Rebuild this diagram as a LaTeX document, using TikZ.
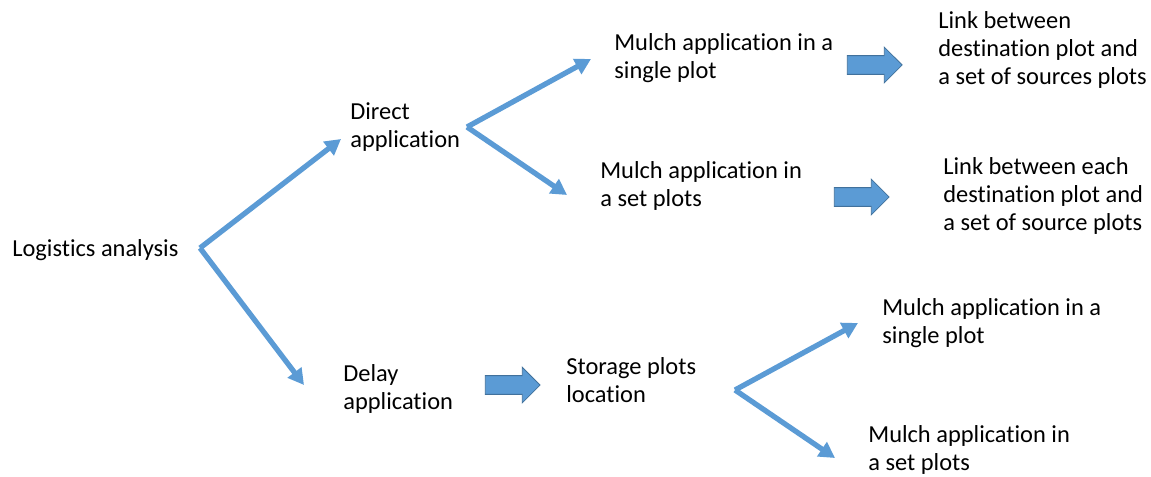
\documentclass[tikz,border=0pt]{standalone}
\usepackage{fontspec}
\setmainfont{Carlito}[Ligatures=NoCommon]
\usetikzlibrary{shapes.arrows, arrows.meta}
\definecolor{flowblue}{HTML}{5B9BD5}
\definecolor{flowedge}{HTML}{41719C}
\tikzset{
x=0.02cm, y=-0.02cm, % one unit is one pixel of the sketch
label/.style={anchor=west, inner sep=0pt, align=left, font=\fontsize{13.9}{15.9}\selectfont}, % the text blocks
branch/.style={line width=3pt, draw=flowblue, -{Triangle[length=9pt, width=9.5pt]}}, % the thin arrows
bigarrow/.style={single arrow, fill=flowblue, draw=flowedge, line width=0.5pt, inner xsep=0pt, inner ysep=5.1pt, minimum width=19.8pt, minimum height=31.2pt, single arrow head extend=4.8pt}, % the block arrows
}
\begin{document}
\begin{tikzpicture}
    \useasboundingbox (0,0) rectangle (1151,476);
    % text blocks
    \node[label] (logistics) at (12,250) {Logistics analysis};
    \node[label] (direct) at (350,127) {Direct\\application};
    \node[label] (single) at (614,58) {Mulch application in a\\single plot};
    \node[label] (setplots) at (600,186) {Mulch application in\\a set plots};
    \node[label] (linkone) at (938,50) {Link between\\destination plot and\\a set of sources plots};
    \node[label] (linktwo) at (943,196) {Link between each\\destination plot and\\a set of source plots};
    \node[label] (delay) at (343,389) {Delay\\application};
    \node[label] (storage) at (566,380) {Storage plots\\location};
    \node[label] (singletwo) at (882,323) {Mulch application in a\\single plot};
    \node[label] (settwo) at (868,450) {Mulch application in\\a set plots};
    % joints and tips of the branches
    \coordinate (jmain) at (200,248);
    \coordinate (tdirect) at (341,139);
    \coordinate (tdelay) at (304,385);
    \coordinate (jdirect) at (467,127);
    \coordinate (tsingle) at (591,59);
    \coordinate (tset) at (567,195);
    \coordinate (jstorage) at (735,390);
    \coordinate (tsingletwo) at (858,323);
    \coordinate (tsettwo) at (835,458);
    % block arrows
    \node[bigarrow] (barone) at (870,65) {};
    \node[bigarrow] (bartwo) at (857,197) {};
    \node[bigarrow] (barthree) at (508,385) {};
    % branches
    \draw[branch] (jmain) -- (tdirect);
    \draw[branch] (jmain) -- (tdelay);
    \draw[branch] (jdirect) -- (tsingle);
    \draw[branch] (jdirect) -- (tset);
    \draw[branch] (jstorage) -- (tsingletwo);
    \draw[branch] (jstorage) -- (tsettwo);
\end{tikzpicture}
\end{document}
